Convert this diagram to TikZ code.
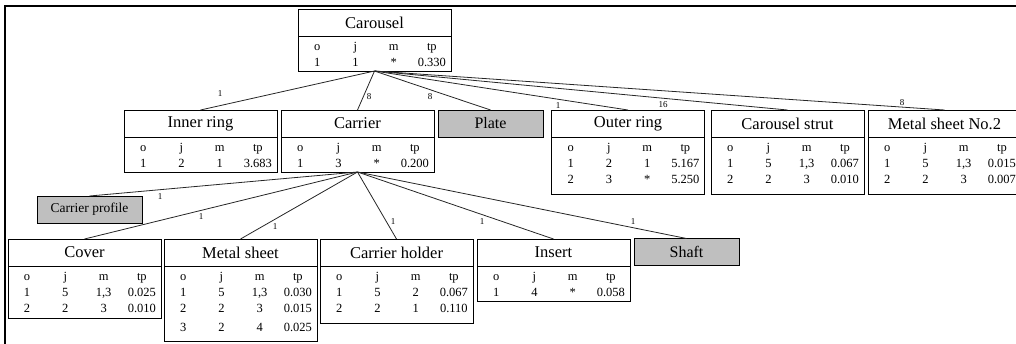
\documentclass[tikz,border=0pt]{standalone}
\usepackage{fontspec}
\setmainfont{Liberation Serif}
\usepackage{array}
\usetikzlibrary{positioning}

\tikzset{
  part/.style={draw, line width=0.9pt, minimum width=153pt, minimum height=27pt,
    inner sep=0pt, outer sep=0pt, font=\fontsize{16.5}{18}\selectfont},
  stock/.style={draw, fill=gray!50, line width=0.9pt, minimum width=105pt,
    minimum height=27pt, inner sep=0pt, outer sep=0pt},
  opdata/.style={draw, line width=0.9pt, minimum width=153pt, inner sep=0pt, outer sep=0pt},
  optab/.style={inner sep=0pt, anchor=north, font=\fontsize{12.5}{16}\selectfont},
  link/.style={draw=black!85, line width=0.8pt},
  qty/.style={font=\fontsize{9}{10}\selectfont, inner sep=0pt},
}
% operation table: header row plus data rows
\newenvironment{ops}{\setlength{\tabcolsep}{0pt}%
  \begin{tabular}{*{4}{>{\centering\arraybackslash}p{38.25pt}}}
  o & j & m & tp\\}{\end{tabular}}

\begin{document}
\begin{tikzpicture}[x=1pt, y=-1pt]
\useasboundingbox (0,0) rectangle (1016,343);
\draw[line width=1.8pt] (5.3,350) |- (1030,5.7);

% --- level 0 ---
\node[part] (carousel) at (374.5,22.5) {Carousel};
\node[opdata, minimum height=35pt, below=0pt of carousel] (carouselData) {};
\node[optab] (carouselOps) at ([yshift=-3pt]carouselData.north) {\begin{ops} 1 & 1 & * & 0.330 \end{ops}};

% --- level 1 ---
\node[part] (innerRing) at (200.5,123.5) {Inner ring};
\node[opdata, minimum height=35pt, below=0pt of innerRing] (innerRingData) {};
\node[optab] (innerRingOps) at ([yshift=-3pt]innerRingData.north) {\begin{ops} 1 & 2 & 1 & 3.683 \end{ops}};

\node[part] (carrier) at (357.5,123.5) {Carrier};
\node[opdata, minimum height=35pt, below=0pt of carrier] (carrierData) {};
\node[optab] (carrierOps) at ([yshift=-3pt]carrierData.north) {\begin{ops} 1 & 3 & * & 0.200 \end{ops}};

\node[stock, font=\fontsize{16}{18}\selectfont] (plate) at (490.5,123.5) {Plate};

\node[part] (outerRing) at (628,123.5) {Outer ring};
\node[opdata, minimum height=57pt, below=0pt of outerRing] (outerRingData) {};
\node[optab] (outerRingOps) at ([yshift=-3pt]outerRingData.north) {\begin{ops} 1 & 2 & 1 & 5.167\\ 2 & 3 & * & 5.250 \end{ops}};

\node[part] (strut) at (787.5,123.5) {Carousel strut};
\node[opdata, minimum height=57pt, below=0pt of strut] (strutData) {};
\node[optab] (strutOps) at ([yshift=-3pt]strutData.north) {\begin{ops} 1 & 5 & 1,3 & 0.067\\ 2 & 2 & 3 & 0.010 \end{ops}};

\node[part] (sheetTwo) at (944.5,123.5) {Metal sheet No.2};
\node[opdata, minimum height=57pt, below=0pt of sheetTwo] (sheetTwoData) {};
\node[optab] (sheetTwoOps) at ([yshift=-3pt]sheetTwoData.north) {\begin{ops} 1 & 5 & 1,3 & 0.015\\ 2 & 2 & 3 & 0.007 \end{ops}};

% --- level 2 (parts of the carrier) ---
\node[stock, font=\fontsize{13.5}{15}\selectfont] (carrierProfile) at (89.5,209.5) {Carrier profile};

\node[part] (cover) at (84.5,252.5) {Cover};
\node[opdata, minimum height=52pt, below=0pt of cover] (coverData) {};
\node[optab] (coverOps) at ([yshift=-3pt]coverData.north) {\begin{ops} 1 & 5 & 1,3 & 0.025\\ 2 & 2 & 3 & 0.010 \end{ops}};

\node[part] (metalSheet) at (240.5,252.5) {Metal sheet};
\node[opdata, minimum height=75pt, below=0pt of metalSheet] (metalSheetData) {};
\node[optab] (metalSheetOps) at ([yshift=-3pt]metalSheetData.north) {\begin{ops} 1 & 5 & 1,3 & 0.030\\ 2 & 2 & 3 & 0.015\\[3pt] 3 & 2 & 4 & 0.025 \end{ops}};

\node[part] (holder) at (396.5,252.5) {Carrier holder};
\node[opdata, minimum height=57pt, below=0pt of holder] (holderData) {};
\node[optab] (holderOps) at ([yshift=-3pt]holderData.north) {\begin{ops} 1 & 5 & 2 & 0.067\\ 2 & 2 & 1 & 0.110 \end{ops}};

\node[part] (insert) at (553.5,252.5) {Insert};
\node[opdata, minimum height=35pt, below=0pt of insert] (insertData) {};
\node[optab] (insertOps) at ([yshift=-3pt]insertData.north) {\begin{ops} 1 & 4 & * & 0.058 \end{ops}};

\node[stock, font=\fontsize{16}{18}\selectfont] (shaft) at (686.5,252) {Shaft};

% links with quantities
\foreach \c in {innerRing, carrier, plate, outerRing, strut, sheetTwo}
  \draw[link] (carouselData.south) -- (\c.north);
\foreach \c in {carrierProfile, cover, metalSheet, holder, insert, shaft}
  \draw[link] (carrierData.south) -- (\c.north);

\node[qty] (qInnerRing) at (220,94) {1};
\node[qty] (qCarrier) at (369,97) {8};
\node[qty] (qPlate) at (430,97) {8};
\node[qty] (qOuterRing) at (558,106) {1};
\node[qty] (qStrut) at (663,105) {16};
\node[qty] (qSheetTwo) at (902,103) {8};
\node[qty] (qProfile) at (160,197) {1};
\node[qty] (qCover) at (201,217) {1};
\node[qty] (qMetalSheet) at (275,227) {1};
\node[qty] (qHolder) at (393,222) {1};
\node[qty] (qInsert) at (482,222) {1};
\node[qty] (qShaft) at (633,222) {1};
\end{tikzpicture}
\end{document}
